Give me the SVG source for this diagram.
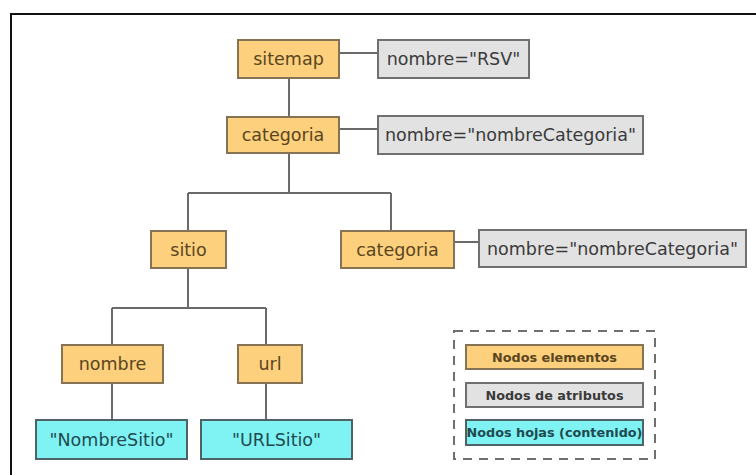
<svg xmlns="http://www.w3.org/2000/svg" width="756" height="475" viewBox="0 0 756 475">
  <style>
    .frame { fill: none; stroke: #111; stroke-width: 2; }
    .elem rect { fill: #fcd07c; stroke: #857354; stroke-width: 2; }
    .attr rect { fill: #e2e2e2; stroke: #707070; stroke-width: 2; }
    .leaf rect { fill: #7ff3f3; stroke: #4f6266; stroke-width: 2; }
    .lbl { font-family: "DejaVu Sans", "Liberation Sans", sans-serif; font-size: 17.5px; text-anchor: middle; dominant-baseline: central; }
    .elem text { fill: #5a4522; }
    .attr text { fill: #3a3a3a; }
    .leaf text { fill: #1f4a50; }
    .links path { fill: none; stroke: #6a6a6a; stroke-width: 2; }
    .legend-box { fill: none; stroke: #6f6f6f; stroke-width: 2; stroke-dasharray: 9 7; }
    .leg { font-family: "DejaVu Sans", "Liberation Sans", sans-serif; font-size: 12.8px; font-weight: bold; text-anchor: middle; dominant-baseline: central; }
  </style>

  <rect width="756" height="475" fill="#ffffff"/>
  <!-- outer frame, running past the right and bottom edges -->
  <rect class="frame" x="11" y="14" width="760" height="480"/>

  <!-- connectors -->
  <g id="connectors" class="links">
    <path d="M339 53 H378"/>
    <path d="M289 78 V117"/>
    <path d="M339 129 H378"/>
    <path d="M289 153 V193 M188 193 H391 M188 193 V231 M391 193 V231"/>
    <path d="M454 242 H479"/>
    <path d="M188 268 V308 M112 308 H266 M112 308 V345 M266 308 V345"/>
    <path d="M112 383 V420"/>
    <path d="M266 383 V420"/>
  </g>

  <!-- element nodes -->
  <g id="sitemap" class="elem">
    <rect x="238" y="40" width="101" height="38"/>
    <text class="lbl" x="288.5" y="59">sitemap</text>
  </g>
  <g id="categoria1" class="elem">
    <rect x="227" y="117" width="112" height="36"/>
    <text class="lbl" x="283" y="135">categoria</text>
  </g>
  <g id="sitio" class="elem">
    <rect x="151" y="231" width="75" height="37"/>
    <text class="lbl" x="188.5" y="249.5">sitio</text>
  </g>
  <g id="categoria2" class="elem">
    <rect x="341" y="231" width="113" height="37"/>
    <text class="lbl" x="397.5" y="249.5">categoria</text>
  </g>
  <g id="nombre" class="elem">
    <rect x="62" y="345" width="101" height="38"/>
    <text class="lbl" x="112.5" y="364">nombre</text>
  </g>
  <g id="url" class="elem">
    <rect x="238" y="345" width="64" height="38"/>
    <text class="lbl" x="270" y="364">url</text>
  </g>

  <!-- attribute nodes -->
  <g id="attr-sitemap" class="attr">
    <rect x="378" y="40" width="151" height="38"/>
    <text class="lbl" x="453.5" y="59">nombre="RSV"</text>
  </g>
  <g id="attr-categoria1" class="attr">
    <rect x="378" y="116" width="265" height="38"/>
    <text class="lbl" x="510.5" y="135">nombre="nombreCategoria"</text>
  </g>
  <g id="attr-categoria2" class="attr">
    <rect x="479" y="230" width="267" height="37"/>
    <text class="lbl" x="612.5" y="248.5">nombre="nombreCategoria"</text>
  </g>

  <!-- leaf (content) nodes -->
  <g id="leaf-nombre" class="leaf">
    <rect x="36" y="420" width="151" height="39"/>
    <text class="lbl" x="111.5" y="439.5">"NombreSitio"</text>
  </g>
  <g id="leaf-url" class="leaf">
    <rect x="201" y="420" width="151" height="39"/>
    <text class="lbl" x="276.5" y="439.5">"URLSitio"</text>
  </g>

  <!-- legend -->
  <g id="legend">
    <rect class="legend-box" x="454" y="331" width="201" height="128"/>
    <g class="elem">
      <rect x="466" y="345" width="177" height="24"/>
      <text class="leg" x="554.5" y="357" fill="#3a2a0a">Nodos elementos</text>
    </g>
    <g class="attr">
      <rect x="466" y="383" width="177" height="24"/>
      <text class="leg" x="554.5" y="395" fill="#2a2a2a">Nodos de atributos</text>
    </g>
    <g class="leaf">
      <rect x="466" y="420" width="177" height="25"/>
      <text class="leg" x="554.5" y="432.5" fill="#0a3440">Nodos hojas (contenido)</text>
    </g>
  </g>
</svg>
